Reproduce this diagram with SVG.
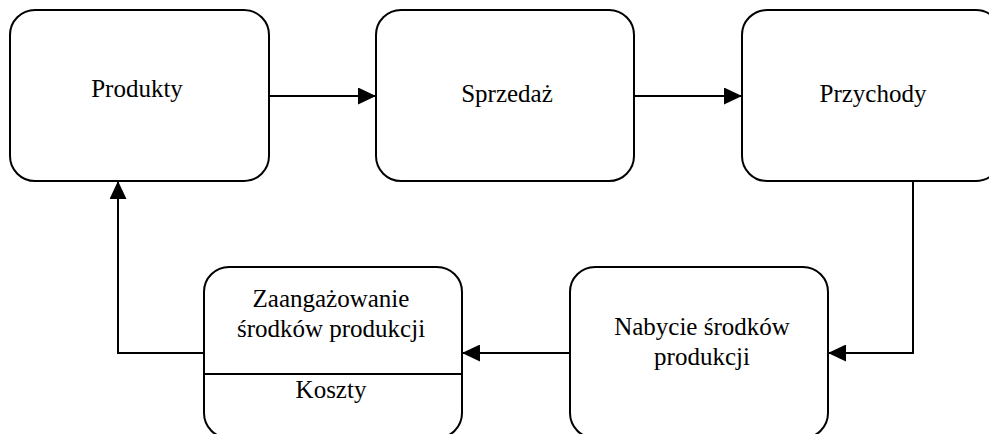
<svg xmlns="http://www.w3.org/2000/svg" width="989" height="434" viewBox="0 0 989 434">
<defs>
<marker id="arr" markerUnits="userSpaceOnUse" markerWidth="18" markerHeight="17" refX="18" refY="8.5" orient="auto">
<path d="M0,0 L18,8.5 L0,17 z" fill="#000"/>
</marker>
<style>
.box{fill:#fff;stroke:#000;stroke-width:2}
.conn{fill:none;stroke:#000;stroke-width:2;marker-end:url(#arr)}
.lbl{font-size:25px;fill:#000;text-anchor:middle}
</style>
</defs>
<rect width="989" height="434" fill="#fff"/>
<g font-family="'Liberation Serif', 'Times New Roman', 'DejaVu Serif', serif">
<g id="produkty">
<rect class="box" x="10" y="10" width="259" height="171" rx="25" ry="25"/>
<text class="lbl" x="137" y="97">Produkty</text>
</g>
<g id="sprzedaz">
<rect class="box" x="376" y="10" width="258" height="171" rx="25" ry="25"/>
<text class="lbl" x="507" y="102">Sprzedaż</text>
</g>
<g id="przychody">
<rect class="box" x="742" y="10" width="259" height="171" rx="25" ry="25"/>
<text class="lbl" x="873" y="102">Przychody</text>
</g>
<g id="nabycie">
<rect class="box" x="570" y="267" width="258" height="171" rx="25" ry="25"/>
<text class="lbl" x="702" y="335">Nabycie środków</text>
<text class="lbl" x="702" y="365">produkcji</text>
</g>
<g id="zaangazowanie">
<rect class="box" x="204" y="267" width="258" height="171" rx="25" ry="25"/>
<line x1="204" y1="374" x2="462" y2="374" stroke="#000" stroke-width="2"/>
<text class="lbl" x="331" y="307">Zaangażowanie</text>
<text class="lbl" x="331" y="337">środków produkcji</text>
<text class="lbl" x="331" y="398">Koszty</text>
</g>
</g>
<g id="connectors">
<path class="conn" d="M269,96 H376"/>
<path class="conn" d="M634,96 H742"/>
<path class="conn" d="M913,181 V353 H828"/>
<path class="conn" d="M570,353 H462"/>
<path class="conn" d="M204,353 H118 V181"/>
</g>
</svg>
